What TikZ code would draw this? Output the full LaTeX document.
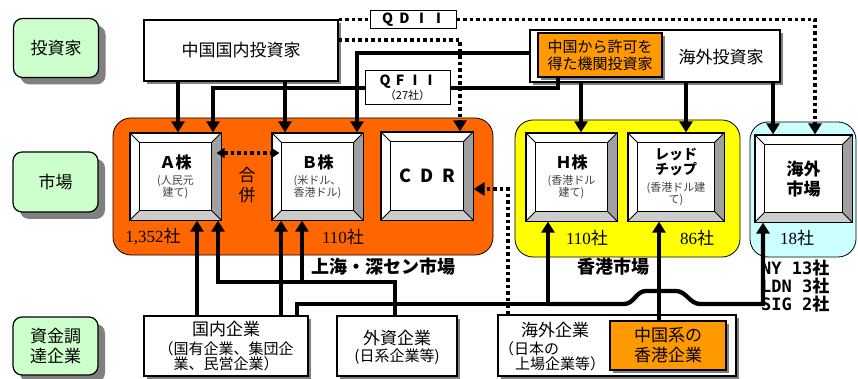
\documentclass[tikz,border=0pt]{standalone}
\usepackage{fontspec}
\setmainfont{Noto Sans CJK JP}
\newfontfamily\numfont{Liberation Serif}
\newfontfamily\monofont{DejaVu Sans Mono}
\usetikzlibrary{arrows.meta,shadows,calc}
\definecolor{lgreen}{HTML}{CCFFCC}
\definecolor{orgA}{HTML}{FF6600}
\definecolor{orgB}{HTML}{FF9900}
\definecolor{ylw}{HTML}{FFFF00}
\definecolor{cyn}{HTML}{CCFFFF}
\definecolor{bevgray}{HTML}{A0A0A0}
\definecolor{bevlight}{HTML}{CCCCCC}
\definecolor{shd}{HTML}{808080}
\definecolor{subtxt}{HTML}{404040}
\newcommand\fsz[2]{\fontsize{#1}{#2}\selectfont}
\newcommand\bevbox[5]{%
 \node[bev, minimum width=#4pt, minimum height=#5pt] (#1) at (#2,#3) {};
 \fill[bevgray] (#1.north east) -- (#1.south east) -- ([shift={(-10,-10)}]#1.south east) -- ([shift={(-10,10)}]#1.north east) -- cycle;
 \fill[bevlight] (#1.south west) -- (#1.south east) -- ([shift={(-10,-10)}]#1.south east) -- ([shift={(10,-10)}]#1.south west) -- cycle;
 \draw[line width=0.8pt] ([shift={(10,10)}]#1.north west) rectangle ([shift={(-10,-10)}]#1.south east);
 \draw[line width=0.8pt] (#1.north west) -- ([shift={(10,10)}]#1.north west)
   (#1.north east) -- ([shift={(-10,10)}]#1.north east)
   (#1.south west) -- ([shift={(10,-10)}]#1.south west)
   (#1.south east) -- ([shift={(-10,-10)}]#1.south east);
 \draw[line width=1.2pt] (#1.north west) rectangle (#1.south east);
}
\begin{document}
\begin{tikzpicture}[x=1pt,y=-1pt,
 lab/.style={draw,line width=1.2pt,rounded corners=9pt,fill=lgreen,inner sep=0pt,align=center,font=\fsz{17}{20},drop shadow={shadow xshift=7pt,shadow yshift=-7pt,fill=shd,opacity=1}},
 wbox/.style={draw,line width=1.2pt,fill=white,inner sep=0pt,align=center,drop shadow={shadow xshift=3pt,shadow yshift=-3pt,fill=shd,opacity=1}},
 obox/.style={wbox,fill=orgB},
 plainbox/.style={draw,line width=1pt,fill=white,inner sep=0pt,align=center},
 region/.style={draw,line width=0.8pt,rounded corners=18pt,inner sep=0pt},
 bev/.style={draw,line width=1.2pt,fill=white,inner sep=0pt},
 txt/.style={inner sep=0pt,align=center},
 sub/.style={txt,text=subtxt,font=\fsz{11}{12.5}},
 ttl/.style={txt,font=\bfseries\fsz{16}{16}},
 num/.style={txt,font=\fsz{17}{17}},
 ln/.style={line width=4.3pt},
 arr/.style={ln,-{Triangle[length=11pt,width=13pt]}},
 dot/.style={line width=3.5pt,dash pattern=on 3.5pt off 3pt},
 dotarr/.style={dot,-{Triangle[length=11pt,width=13pt]}},
]
\useasboundingbox (0,0) rectangle (858,379);

% left category labels
\node[lab, minimum width=85pt, minimum height=59pt] (Linv) at (56,48) {投資家};
\node[lab, minimum width=85pt, minimum height=60pt] (Lmkt) at (55.5,182) {市場};
\node[lab, minimum width=85pt, minimum height=58pt] (Lcorp) at (55.5,346) {資金調\\達企業};

% market regions
\node[region, fill=orgA, minimum width=380pt, minimum height=137pt] (sh) at (303,186.5) {};
\node[region, fill=ylw, minimum width=225pt, minimum height=137pt] (hkm) at (627.5,188.5) {};
\node[region, fill=cyn, minimum width=106pt, minimum height=135pt] (ovm) at (803,189.5) {};

% stock boxes
\bevbox{A}{175.5}{176.5}{91}{87}
\bevbox{B}{317.5}{176.5}{91}{87}
\bevbox{CDR}{427}{176}{92}{88}
\bevbox{H}{571.5}{177}{91}{88}
\bevbox{R}{676}{177}{96}{88}
\bevbox{OM}{803.5}{178.5}{97}{87}

\node[ttl] (At) at (175.5,162) {Ａ株};
\node[sub] (As) at (175.5,187) {(人民元\\建て)};
\node[ttl] (Bt) at (317.5,162) {Ｂ株};
\node[sub] (Bs) at (317.5,187) {(米ドル、\\香港ドル)};
\node[txt,font=\bfseries\fsz{18}{18}] (Ct) at (427,176) {\makebox[22pt]{C}\makebox[22pt]{D}\makebox[22pt]{R}};
\node[txt,font=\fsz{17}{20}] (gp) at (247,185) {合\\併};
\node[num] (n1) at (153,237) {{\numfont 1,352}社};
\node[num] (n2) at (343,237) {{\numfont 110}社};
\node[txt,font=\bfseries\fsz{18}{18}] (shl) at (383,267) {上海・深セン市場};
\node[ttl] (Ht) at (571.5,162) {Ｈ株};
\node[sub] (Hs) at (571.5,187) {(香港ドル\\建て)};
\node[txt,font=\bfseries\fsz{14}{15}] (Rt) at (676,162.5) {レッド\\チップ};
\node[sub] (Rs) at (676,194) {(香港ドル建\\て)};
\node[num] (n3) at (587,238) {{\numfont 110}社};
\node[num] (n4) at (697,238) {{\numfont 86}社};
\node[txt,font=\bfseries\fsz{18}{18}] (hkl) at (613,267) {香港市場};
\node[txt,font=\bfseries\fsz{17}{20}] (OMt) at (803.5,179) {海外\\市場};
\node[num] (n5) at (797,238) {{\numfont 18}社};
\node[txt,anchor=west,font=\bfseries\fsz{17}{17}] (ny) at (761,268) {{\monofont NY 13}社};
\node[txt,anchor=west,font=\bfseries\fsz{17}{17}] (ldn) at (761,286) {{\monofont LDN 3}社};
\node[txt,anchor=west,font=\bfseries\fsz{17}{17}] (sig) at (761,304) {{\monofont SIG 2}社};

% investors
\node[wbox, minimum width=194pt, minimum height=61pt, font=\fsz{17}{17}] (dom) at (241,50.5) {中国国内投資家};
\node[plainbox, minimum width=86pt, minimum height=18pt, font=\bfseries\fsz{14}{14}] (qdii) at (413,19.5) {\makebox[17pt]{Q}\makebox[17pt]{D}\makebox[17pt]{I}\makebox[17pt]{I}};
\node[plainbox, minimum width=85pt, minimum height=34pt] (qfii) at (407.5,88) {\bfseries\fsz{14}{14}\makebox[15pt]{Q}\makebox[15pt]{F}\makebox[15pt]{I}\makebox[15pt]{I}\\[1pt]\fsz{11}{11}（27社）};
\node[wbox, minimum width=250pt, minimum height=52pt] (ov) at (655,56) {};
\node[txt, font=\fsz{17}{17}] (ovt) at (721,57) {海外投資家};
\node[obox, minimum width=124pt, minimum height=44pt, font=\fsz{15}{17}] (inst) at (600,55) {中国から許可を\\得た機関投資家};

% corporations
\node[wbox, minimum width=164pt, minimum height=60pt] (dc) at (226,346) {};
\node[txt,font=\fsz{17}{17}] (dct1) at (226,329) {国内企業};
\node[txt,font=\fsz{15}{15}] (dct2) at (226,356.5) {（国有企業、集団企\\業、民営企業）};
\node[wbox, minimum width=120pt, minimum height=60pt] (fc) at (397,346) {};
\node[txt,font=\fsz{17}{17}] (fct1) at (397,338) {外資企業};
\node[txt,font=\fsz{15}{15}] (fct2) at (397,357) {(日系企業等)};
\node[wbox, minimum width=238pt, minimum height=61pt] (oc) at (617,345.5) {};
\node[txt,font=\fsz{17}{17}] (oct1) at (555,330) {海外企業};
\node[txt,anchor=west,font=\fsz{15}{15}] (oct2) at (499,349) {（日本の};
\node[txt,anchor=west,font=\fsz{15}{15}] (oct3) at (515,364) {上場企業等）};
\node[obox, minimum width=116pt, minimum height=49pt, font=\fsz{17}{20}] (hk) at (668,345.5) {中国系の\\香港企業};

% routing columns / rows
\coordinate (xa) at (178,0); \coordinate (xb) at (285,0);
\coordinate (xa2) at (213,0); \coordinate (xb2) at (357,0);
\coordinate (xh) at (581,0); \coordinate (xr) at (686,0); \coordinate (xo) at (773,0);
\coordinate (xi) at (558,0); \coordinate (xq) at (815,0); \coordinate (xc) at (460,0);
\coordinate (xd) at (508,0); \coordinate (xa3) at (197,0); \coordinate (xb3) at (281,0);
\coordinate (xf) at (395,0); \coordinate (xa4) at (218,0); \coordinate (xb4) at (302,0);
\coordinate (xt) at (297,0); \coordinate (xh2) at (548,0); \coordinate (xr2) at (659,0);
\coordinate (xo2) at (763,0);
\coordinate (yov) at (0,53); \coordinate (y40) at (0,40); \coordinate (y153) at (0,153);
\coordinate (y189) at (0,189); \coordinate (y282) at (0,282); \coordinate (y304) at (0,304);

% investor connectors
\draw[arr] (dom.south -| xa) -- (A.north -| xa);
\draw[arr] (dom.south -| xb) -- (B.north -| xb);
\draw[ln] (inst.south -| xi) |- (qfii.east);
\draw[arr] (qfii.west) -| (A.north -| xa2);
\draw[arr] (ov.west |- yov) -| (B.north -| xb2);
\draw[arr] (ov.south -| xh) -- (H.north -| xh);
\draw[arr] (ov.south -| xr) -- (R.north -| xr);
\draw[arr] (ov.south -| xo) -- (OM.north -| xo);
\draw[dot] (dom.east |- qdii.west) -- (qdii.west);
\draw[dotarr] (qdii.east) -| (OM.north -| xq);
\draw[dotarr] (dom.east |- y40) -| (CDR.north -| xc);
\draw[dotarr] (oc.north -| xd) |- (CDR.east |- y189);
\draw[dot,{Triangle[length=8pt,width=10pt]}-{Triangle[length=8pt,width=10pt]}] ($(A.east |- y153)+(-5,0)$) -- ($(B.west |- y153)+(8,0)$);

% corporation connectors
\draw[arr] (dc.north -| xa3) -- (A.south -| xa3);
\draw[arr] (dc.north -| xb3) -- (B.south -| xb3);
\draw[arr] (fc.north -| xf) |- (xa4 |- y282) -- (A.south -| xa4);
\draw[arr] (xb4 |- y282) -- (B.south -| xb4);
\draw[arr] (dc.north -| xt) |- (xh2 |- y304) -- (H.south -| xh2);
\draw[arr] (xh2 |- y304) -- (624,304) .. controls (634,304) and (636,291) .. (646,291) -- (676,291) .. controls (686,291) and (690,304) .. (700,304) -| (OM.south -| xo2);
\draw[arr] (hk.north -| xr2) -- (R.south -| xr2);
\end{tikzpicture}
\end{document}
